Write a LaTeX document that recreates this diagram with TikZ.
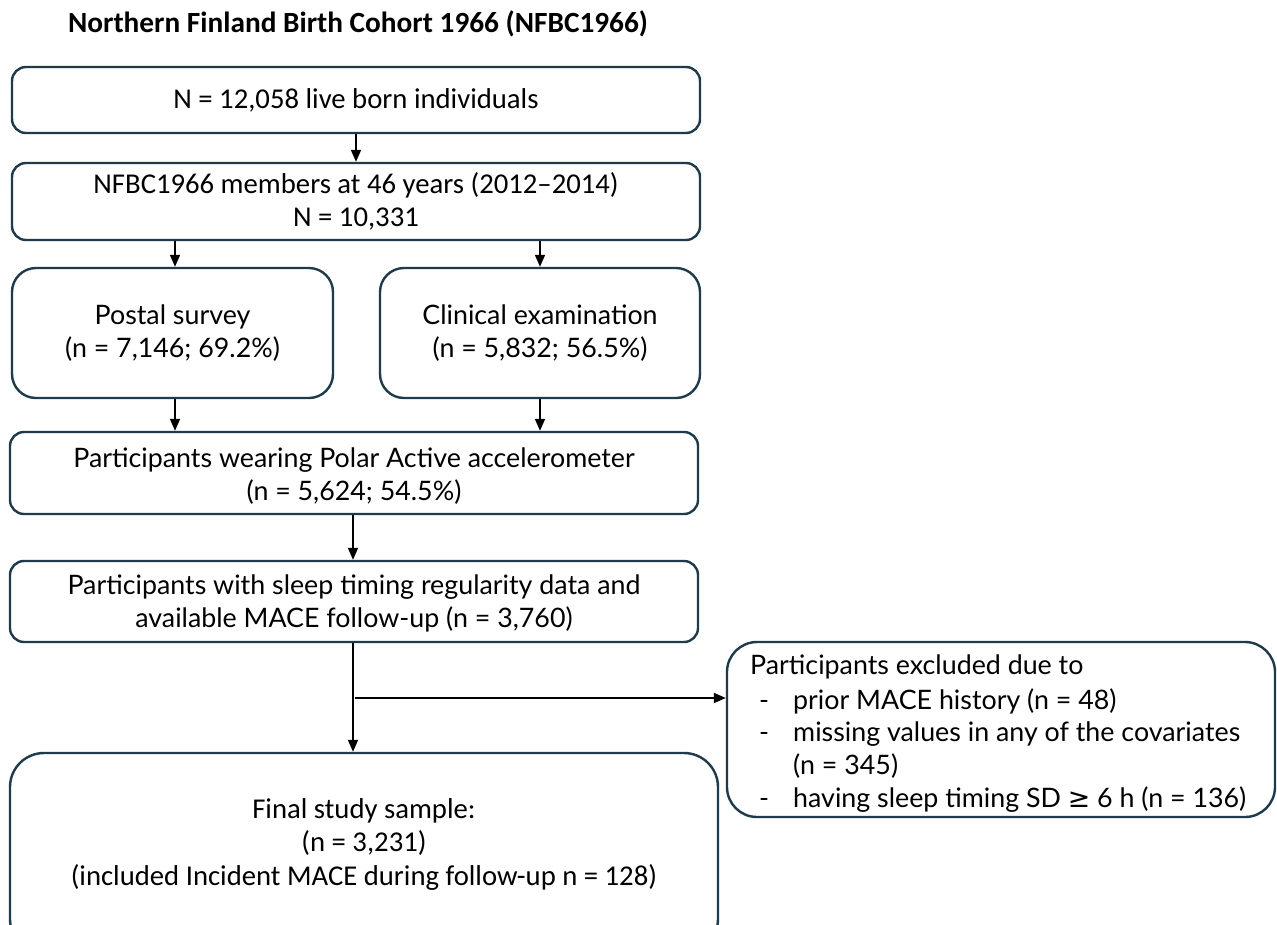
\documentclass[tikz,border=0pt]{standalone}
\usepackage{fontspec}
\setmainfont{Carlito}
\newfontfamily\widefont{Lato}
\newfontfamily\symfont{DejaVu Sans}
\usetikzlibrary{arrows.meta}
\definecolor{boxline}{HTML}{1F3A4B}
\tikzset{
  box/.style={draw=boxline, line width=2.4pt, rounded corners=#1, fill=white, inner sep=0pt, align=center},
  box/.default=14pt,
  arr/.style={line width=1.8pt, draw=black, -{Triangle[length=12pt,width=10pt]}},
  narrow/.style={font=\fontsize{28.7}{33.5}\selectfont},
  wide/.style={font=\widefont\fontsize{26.8}{33}\selectfont},
}
\begin{document}
\begin{tikzpicture}[x=1pt,y=-1pt]
\useasboundingbox (0,0) rectangle (1277,924);
\clip (0,0) rectangle (1277,924);
\node[font=\bfseries\fontsize{29.3}{33}\selectfont] (title) at (358,24) {Northern Finland Birth Cohort 1966 (NFBC1966)};
\node[box, narrow, minimum width=688pt, minimum height=66pt] (b1) at (356,100) {N = 12,058 live born individuals};
\node[box, narrow, minimum width=688pt, minimum height=77pt] (b2) at (356,201.5) {NFBC1966 members at 46 years (2012--2014)\\N = 10,331};
\node[box=24pt, wide, minimum width=321pt, minimum height=130pt] (b3) at (172.5,333) {Postal survey\\(n = 7,146; 69.2\%)};
\node[box=24pt, wide, minimum width=320pt, minimum height=130pt] (b4) at (540,333) {Clinical examination\\(n = 5,832; 56.5\%)};
\node[box, wide, minimum width=688pt, minimum height=82pt] (b5) at (354,473) {};
\node[wide, align=center] (b5t) at (354,476) {Participants wearing Polar Active accelerometer\\(n = 5,624; 54.5\%)};
\node[box, wide, minimum width=688pt, minimum height=81pt] (b6) at (354,601.5) {};
\node[wide, align=center] (b6t) at (354,603) {Participants with sleep timing regularity data and\\available MACE follow-up (n = 3,760)};
\node[box=34pt, minimum width=708pt, minimum height=200pt] (b7) at (364,853) {};
\node[narrow, align=center] (b7t) at (364,844) {Final study sample:\\(n = 3,231)\\(included Incident MACE during follow-up n = 128)};
\node[box=30pt, minimum width=548pt, minimum height=175pt] (ex) at (1001,729.5) {};
\begin{scope}[wide, every node/.style={anchor=base west, inner sep=0pt}]
\node (e0) at (750,674) {Participants excluded due to};
\node (d1) at (759,709) {-};
\node (e1) at (793,709) {prior MACE history (n = 48)};
\node (d2) at (759,741) {-};
\node (e2) at (793,741) {missing values in any of the covariates};
\node (e3) at (793,774) {(n = 345)};
\node (d4) at (759,807) {-};
\node (e4) at (793,807) {having sleep timing SD {\symfont≥} 6 h (n = 136)};
\end{scope}
\draw[arr] (b1) -- (b2);
\draw[arr] (b2.south -| 175,0) -- (b3.north -| 175,0);
\draw[arr] (b2.south -| b4.north) -- (b4.north);
\draw[arr] (b3.south -| 175,0) -- (b5.north -| 175,0);
\draw[arr] (b4.south) -- (b4.south |- b5.north);
\draw[arr] (b5.south -| 353,0) -- (b6.north -| 353,0);
\draw[arr] (b6.south -| 353,0) -- (b7.north -| 353,0);
\coordinate (br) at (355,698);
\draw[arr] (br) -- (br -| ex.west);
\end{tikzpicture}
\end{document}
